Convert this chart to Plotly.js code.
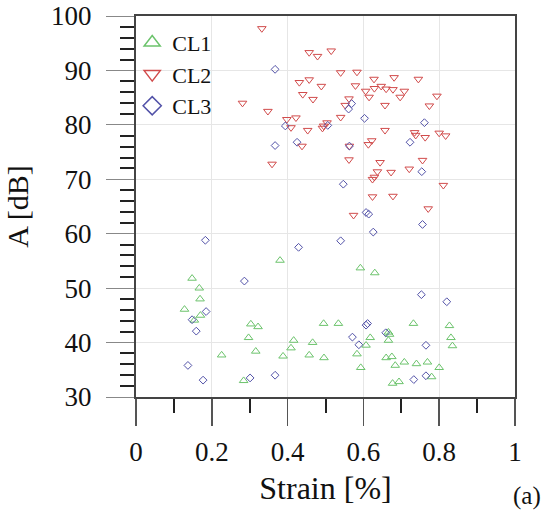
<!DOCTYPE html>
<html>
<head>
<meta charset="utf-8">
<script src="https://cdn.plot.ly/plotly-3.0.1.min.js"></script>
<style>html,body{margin:0;padding:0;background:#fff;}#chart{width:554px;height:516px;}</style>
</head>
<body>
<div id="chart"></div>
<script>
// CL1 (green, triangle-up)
const cl1Strain = [0.592,0.630,0.495,0.534,0.732,0.827,0.666,0.669,0.618,0.666,0.831,0.835,0.607,0.583,0.496,0.660,0.675,0.684,0.708,0.740,0.769,0.800,0.593,0.780,0.677,0.694,0.380,0.148,0.167,0.169,0.128,0.170,0.154,0.303,0.322,0.297,0.316,0.226,0.388,0.416,0.409,0.466,0.457,0.284];
const cl1A      = [53.7,52.8,43.5,43.5,43.5,43.1,41.9,41.5,40.9,40.4,40.9,39.4,39.5,37.9,37.2,37.2,37.4,35.8,36.4,36.1,36.4,35.4,35.4,33.7,32.5,32.8,55.1,51.8,50.0,48.0,46.1,45.0,44.1,43.4,42.9,40.9,38.4,37.7,37.5,40.4,39.0,40.0,37.7,33.0];
// CL2 (red, triangle-down)
const cl2Strain = [0.332,0.457,0.479,0.515,0.431,0.457,0.489,0.440,0.467,0.281,0.348,0.398,0.422,0.409,0.453,0.492,0.438,0.359,0.540,0.583,0.579,0.628,0.681,0.745,0.629,0.647,0.660,0.678,0.708,0.606,0.615,0.697,0.794,0.562,0.657,0.774,0.552,0.540,0.504,0.495,0.657,0.735,0.738,0.763,0.800,0.817,0.563,0.622,0.613,0.562,0.644,0.756,0.637,0.673,0.721,0.629,0.624,0.811,0.624,0.678,0.574,0.771];
const cl2A      = [97.7,93.3,92.6,93.6,87.8,88.3,87.1,85.6,84.7,84.0,82.5,81.0,81.3,79.5,79.0,79.4,76.1,72.8,89.6,89.7,87.2,88.4,88.7,88.4,86.7,87.1,86.6,86.5,86.2,86.2,85.1,85.1,85.3,84.8,83.6,83.5,83.6,81.4,80.4,79.8,79.0,78.6,78.1,77.7,78.5,78.0,76.1,77.1,76.4,73.6,73.1,73.5,71.4,71.3,71.9,70.4,70.0,68.9,66.8,66.9,63.4,64.6];
// CL3 (blue, diamond)
const cl3Strain = [0.367,0.394,0.367,0.425,0.506,0.569,0.561,0.603,0.761,0.563,0.723,0.754,0.547,0.607,0.614,0.756,0.626,0.540,0.753,0.820,0.607,0.611,0.659,0.571,0.588,0.765,0.733,0.765,0.183,0.429,0.286,0.148,0.185,0.159,0.137,0.177,0.301,0.367];
const cl3A      = [90.2,79.8,76.2,76.8,79.9,83.9,82.9,81.2,80.4,76.1,76.8,71.4,69.1,63.9,63.6,61.7,60.3,58.7,48.8,47.5,43.2,43.5,41.8,41.0,39.6,39.5,33.2,33.9,58.8,57.5,51.3,44.2,45.7,42.1,35.8,33.1,33.5,34.0];

const seriesNames = ['CL1','CL2','CL3'];
const xTitle = 'Strain [%]';
const yTitle = 'A [dB]';
const panelLabel = '(a)';

const colors = ['#6cc36c','#d14b4b','#5252a8'];
const symbols = ['triangle-up-open','triangle-down-open','diamond-open'];
const sizes = [7.5,7.5,6];
const FONT = 'Liberation Serif, Times New Roman, Times, serif';

const xs = [cl1Strain, cl2Strain, cl3Strain];
const ys = [cl1A, cl2A, cl3A];

const traces = [];
for (let i = 0; i < 3; i++) {
  traces.push({
    type: 'scatter', mode: 'markers', x: xs[i], y: ys[i], name: seriesNames[i],
    showlegend: false, hoverinfo: 'x+y+name',
    marker: {symbol: symbols[i], size: sizes[i], color: colors[i], line: {color: colors[i], width: 1}}
  });
}
for (let i = 0; i < 3; i++) {
  traces.push({
    type: 'scatter', mode: 'markers', x: [null], y: [null], name: seriesNames[i],
    showlegend: true, hoverinfo: 'skip',
    marker: {symbol: symbols[i], size: 14, color: colors[i], line: {color: colors[i], width: 1.5}}
  });
}

const layout = {
  width: 554, height: 516,
  margin: {l: 136, r: 39, t: 16, b: 119, pad: 0},
  paper_bgcolor: '#fff', plot_bgcolor: '#fff',
  font: {family: FONT, color: '#111', size: 26},
  showlegend: true,
  legend: {x: -0.01, y: 0.985, xanchor: 'left', yanchor: 'top', bgcolor: 'rgba(0,0,0,0)',
           font: {family: FONT, size: 22, color: '#111'}, borderwidth: 0, tracegroupgap: 0},
  xaxis: {
    range: [0, 1], dtick: 0.2, tick0: 0, showgrid: true, gridcolor: '#e6e6e6', gridwidth: 1,
    zeroline: false, showline: true, linecolor: '#444', linewidth: 2, mirror: true,
    ticks: 'outside', ticklen: 27, tickwidth: 1.5, tickcolor: '#555',
    minor: {dtick: 0.1, ticklen: 14, tickwidth: 2, tickcolor: '#222', showgrid: false, ticks: 'outside'},
    tickfont: {family: FONT, size: 27, color: '#111'}, ticklabelstandoff: 3,
    title: {text: xTitle, font: {family: FONT, size: 32, color: '#111'}, standoff: 10},
    fixedrange: true
  },
  yaxis: {
    range: [30, 100], dtick: 10, tick0: 30, showgrid: true, gridcolor: '#e6e6e6', gridwidth: 1,
    zeroline: false, showline: true, linecolor: '#444', linewidth: 2, mirror: true,
    ticks: 'outside', ticklen: 28, tickwidth: 1, tickcolor: '#888',
    minor: {dtick: 2, ticklen: 14, tickwidth: 2, tickcolor: '#222', showgrid: false, ticks: 'outside'},
    tickfont: {family: FONT, size: 27, color: '#111'}, ticklabelstandoff: 9,
    title: {text: yTitle, font: {family: FONT, size: 30, color: '#111'}, standoff: 14},
    fixedrange: true
  },
  annotations: [{
    text: panelLabel, xref: 'paper', yref: 'paper', x: 1.031, y: -0.261,
    xanchor: 'center', yanchor: 'middle', showarrow: false,
    font: {family: FONT, size: 25, color: '#111'}
  }]
};

Plotly.newPlot('chart', traces, layout, {staticPlot: true, displayModeBar: false});
</script>
</body>
</html>
